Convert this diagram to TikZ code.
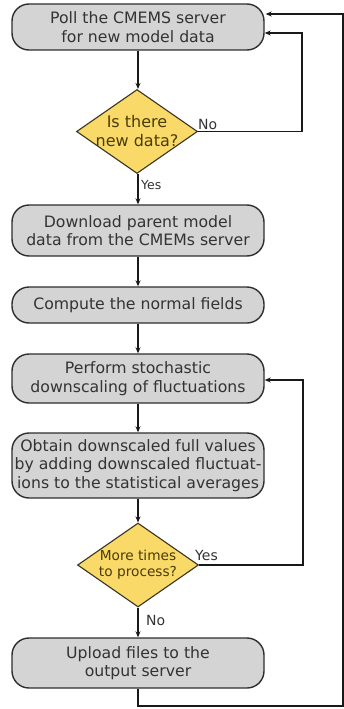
\documentclass[tikz,border=0pt]{standalone}
\usepackage{fontspec}
\setmainfont{DejaVu Sans}
\usetikzlibrary{shapes.geometric,arrows.meta}
\definecolor{boxfill}{HTML}{D4D4D4}
\definecolor{boxline}{HTML}{2E2E2E}
\definecolor{txt}{HTML}{333333}
\definecolor{dfill}{HTML}{F9D968}
\definecolor{dline}{HTML}{3A3520}
\definecolor{dtxt}{HTML}{4A3C08}
\tikzset{
  procbox/.style={draw=boxline, line width=1.4pt, fill=boxfill, rounded corners=17pt,
    minimum width=252pt, inner sep=0pt, align=center, text=txt,
    font=\fontsize{15.7pt}{18.5pt}\selectfont},
  decbox/.style={diamond, draw=dline, line width=1.1pt, fill=dfill, inner sep=0pt,
    minimum width=121pt, minimum height=84pt},
  dtext/.style={align=center, text=dtxt, inner sep=0pt},
  lbl/.style={anchor=west, text=txt, inner sep=0pt, font=\fontsize{14pt}{16pt}\selectfont},
  arr/.style={draw=black!90, line width=1.7pt, -{Stealth[length=6pt,width=5pt]}},
}
\begin{document}
\begin{tikzpicture}[x=1pt,y=1pt]
\useasboundingbox (0,0) rectangle (344,-709);
\node[procbox, minimum height=46pt] (b1) at (138,-27) {Poll the CMEMS server\\for new model data};
\node[decbox] (d1) at (137,-131.5) {};
\node[dtext, font=\fontsize{16pt}{19pt}\selectfont] at (d1) {Is there\\new data?};
\node[procbox, minimum height=51pt] (b2) at (138,-230.5) {Download parent model\\data from the CMEMs server};
\node[procbox, minimum height=36pt] (b3) at (138,-305) {Compute the normal fields};
\node[procbox, minimum height=49pt] (b4) at (138,-378.5) {Perform stochastic\\downscaling of fluctuations};
\node[procbox, minimum height=65pt] (b5) at (138,-465.5) {Obtain downscaled full values\\by adding downscaled fluctuat-\\ions to the statistical averages};
\node[decbox] (d2) at (138,-565) {};
\node[dtext, font=\fontsize{13.7pt}{16pt}\selectfont] at (d2) {More times\\to process?};
\node[procbox, minimum height=50pt] (b6) at (138,-663) {Upload files to the\\output server};

\node[lbl] (no1) at (198,-124) {No};
\node[lbl, font=\fontsize{12.5pt}{15pt}\selectfont] (yes1) at (141,-185) {Yes};
\node[lbl] (yes2) at (195,-555) {Yes};
\node[lbl] (no2) at (146,-620) {No};

\draw[arr] (b1.south) -- (b1.south |- d1.north);
\draw[arr] (b1.south |- d1.south) -- (b2.north);
\draw[arr] (b2) -- (b3);
\draw[arr] (b3) -- (b4);
\draw[arr] (b4) -- (b5);
\draw[arr] (b5) -- (d2);
\draw[arr] (d2) -- (b6);

\coordinate (r1) at (302,-33);
\draw[arr] (d1.east) -| (r1) -- (b1.east |- r1);
\coordinate (r2) at (303,-380);
\draw[arr] (d2.east) -| (r2) -- (b4.east |- r2);
\coordinate (c1) at (343,-706);
\coordinate (c2) at (343,-14);
\draw[arr, shorten >=1pt] (b6.south) |- (c1) -- (c2) -- (b1.east |- c2);
\end{tikzpicture}
\end{document}
